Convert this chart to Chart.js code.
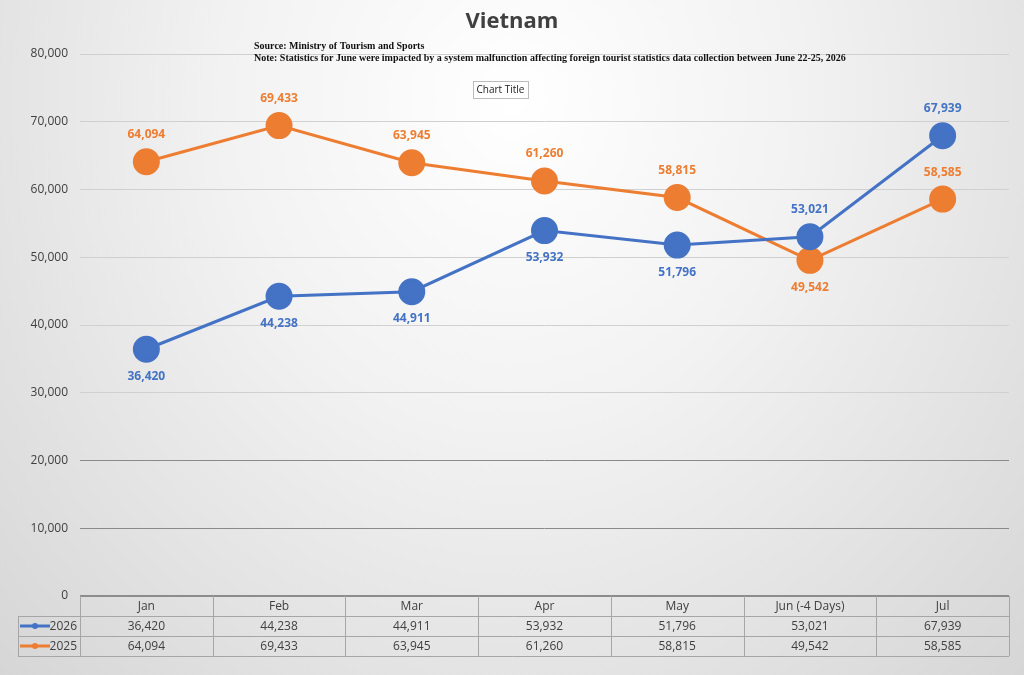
<!DOCTYPE html>
<html>
<head>
<meta charset="utf-8">
<script src="https://cdn.jsdelivr.net/npm/chart.js@4.4.0/dist/chart.umd.min.js"></script>
<style>
  html, body { margin: 0; padding: 0; }
  body {
    width: 1024px; height: 675px; overflow: hidden;
    background: radial-gradient(ellipse at 50% 15%, #ffffff 0%, #f2f2f2 40%, #d6d6d6 100%);
  }
  #wrap { width: 1024px; height: 675px; position: relative; }
</style>
</head>
<body>
<div id="wrap"><canvas id="myChart" width="1024" height="675"></canvas></div>
<script>
// Data
const months = ['Jan', 'Feb', 'Mar', 'Apr', 'May', 'Jun (-4 Days)', 'Jul'];
const visitors2026 = [36420, 44238, 44911, 53932, 51796, 53021, 67939];
const visitors2025 = [64094, 69433, 63945, 61260, 58815, 49542, 58585];
const yTicks = [0, 10000, 20000, 30000, 40000, 50000, 60000, 70000, 80000];
// label above (true) or below (false) each point
const above2026 = [false, false, false, false, false, true, true];
const above2025 = [true, true, true, true, true, false, true];

const BLUE = '#4472c4';
const ORANGE = '#ed7d31';
const fmt = v => v.toLocaleString('en-US');

const extrasPlugin = {
    id: 'extras',
    afterDatasetsDraw(chart) {
        const ctx = chart.ctx;
        const xs = chart.scales.x;
        const area = chart.chartArea;
        ctx.save();
        // point labels
        ctx.font = 'bold 12px "Open Sans", sans-serif';
        ctx.textAlign = 'center';
        ctx.textBaseline = 'middle';
        const sets = [[0, above2026, BLUE], [1, above2025, ORANGE]];
        sets.forEach(([di, above, color]) => {
            const meta = chart.getDatasetMeta(di);
            ctx.fillStyle = color;
            meta.data.forEach((pt, i) => {
                const dy = above[i] ? -27 : 27;
                ctx.fillText(fmt(chart.data.datasets[di].data[i]), pt.x, pt.y + dy);
            });
        });
        // title
        ctx.fillStyle = '#404040';
        ctx.font = 'bold 22px "Open Sans", sans-serif';
        ctx.fillText('Vietnam', 512, 22);
        // source/note
        ctx.fillStyle = '#111';
        ctx.textAlign = 'left';
        ctx.font = 'bold 10px "Liberation Serif", serif';
        ctx.fillText('Source: Ministry of Tourism and Sports', 254, 46);
        ctx.fillText('Note: Statistics for June were impacted by a system malfunction affecting foreign tourist statistics data collection between June 22-25, 2026', 254, 58);
        // chart title box
        ctx.fillStyle = '#fff';
        ctx.strokeStyle = '#bbb';
        ctx.fillRect(473, 81, 55, 17);
        ctx.strokeRect(473.5, 81.5, 55, 17);
        ctx.fillStyle = '#222';
        ctx.textAlign = 'center';
        ctx.font = '10px "Open Sans", sans-serif';
        ctx.fillText('Chart Title', 500.5, 90);

        // data table
        const top = area.bottom, rowH = 20;
        const left = area.left, right = area.right;
        const n = months.length;
        const step = (right - left) / n;
        ctx.strokeStyle = '#8c8c8c';
        ctx.lineWidth = 2;
        ctx.beginPath(); ctx.moveTo(left, top); ctx.lineTo(right, top); ctx.stroke();
        ctx.lineWidth = 1;
        ctx.strokeStyle = '#a6a6a6';
        for (let r = 1; r <= 3; r++) {
            const y = Math.round(top + r * rowH) + 0.5;
            ctx.beginPath(); ctx.moveTo(18, y); ctx.lineTo(right, y); ctx.stroke();
        }
        for (let i = 0; i <= n; i++) {
            const x = Math.round(left + i * step) + 0.5;
            ctx.beginPath(); ctx.moveTo(x, top); ctx.lineTo(x, top + 3 * rowH); ctx.stroke();
        }
        ctx.beginPath(); ctx.moveTo(18.5, top + rowH); ctx.lineTo(18.5, top + 3 * rowH); ctx.stroke();
        ctx.font = '12px "Open Sans", sans-serif';
        ctx.fillStyle = '#404040';
        months.forEach((m, i) => {
            const cx = xs.getPixelForValue(i);
            ctx.fillText(m, cx, top + rowH * 0.5 + 1);
            ctx.fillText(fmt(visitors2026[i]), cx, top + rowH * 1.5 + 1);
            ctx.fillText(fmt(visitors2025[i]), cx, top + rowH * 2.5 + 1);
        });
        // legend keys
        [[BLUE, '2026'], [ORANGE, '2025']].forEach(([c, t], r) => {
            const y = top + rowH * (1.5 + r);
            ctx.strokeStyle = c; ctx.lineWidth = 3;
            ctx.beginPath(); ctx.moveTo(20, y); ctx.lineTo(50, y); ctx.stroke();
            ctx.fillStyle = c;
            ctx.beginPath(); ctx.arc(35, y, 3, 0, Math.PI * 2); ctx.fill();
            ctx.fillStyle = '#404040';
            ctx.textAlign = 'right';
            ctx.fillText(t, 77, y + 1);
            ctx.textAlign = 'center';
        });
        ctx.restore();
    }
};

const ctx = document.getElementById('myChart').getContext('2d');
const chart = new Chart(ctx, {
    type: 'line',
    data: {
        labels: months,
        datasets: [
            {
                label: '2026',
                data: visitors2026,
                borderColor: BLUE,
                backgroundColor: BLUE,
                borderWidth: 3,
                pointRadius: 12,
                pointHoverRadius: 12,
                pointBorderColor: BLUE
            },
            {
                label: '2025',
                data: visitors2025,
                borderColor: ORANGE,
                backgroundColor: ORANGE,
                borderWidth: 3,
                pointRadius: 12,
                pointHoverRadius: 12,
                pointBorderColor: ORANGE
            }
        ]
    },
    options: {
        responsive: false,
        animation: false,
        devicePixelRatio: 1,
        layout: { padding: { top: 54, bottom: 71, left: 0, right: 6 } },
        plugins: { legend: { display: false }, tooltip: { enabled: false } },
        scales: {
            x: {
                offset: true,
                ticks: { display: false },
                grid: { display: false },
                border: { display: false }
            },
            y: {
                min: 0,
                max: 80000,
                afterBuildTicks: axis => { axis.ticks = yTicks.map(v => ({ value: v })); },
                afterFit: axis => { axis.width = 80; },
                ticks: {
                    color: '#404040',
                    font: { size: 12, family: '"Open Sans", sans-serif' },
                    padding: 12,
                    callback: v => fmt(v)
                },
                grid: {
                    color: ctx => ctx.tick && ctx.tick.value <= 20000 ? '#8a8a8a' : '#d0d0d0',
                    drawTicks: false
                },
                border: { display: false }
            }
        }
    },
    plugins: [extrasPlugin]
});
</script>
</body>
</html>
